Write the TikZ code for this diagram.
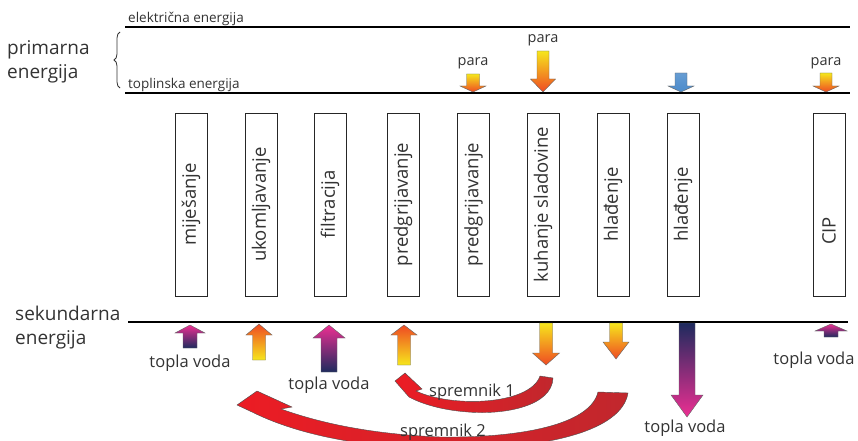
\documentclass[tikz,border=0pt]{standalone}
\usepackage{fontspec}
\setmainfont{Open Sans}
\usetikzlibrary{decorations.pathreplacing}
\definecolor{txt}{HTML}{333333}
\definecolor{ayel}{HTML}{F6E61C}
\definecolor{aora}{HTML}{EF4A23}
\definecolor{apink}{HTML}{EC2F92}
\definecolor{anavy}{HTML}{1E2B5E}
\definecolor{ablue}{HTML}{4B8BCB}
\definecolor{redA}{HTML}{EC1C24}
\definecolor{redB}{HTML}{C1272D}
% x, y0 (body end), y1 (head base), y2 (tip), w, h, top colour, bottom colour
\newcommand\blockarrow[8]{%
  \shadedraw[top color=#7,bottom color=#8,draw=black!60,line width=0.4pt]
  ({#1-#5},#2) -- ({#1+#5},#2) -- ({#1+#5},#3) -- ({#1+#6},#3) -- (#1,#4)
  -- ({#1-#6},#3) -- ({#1-#5},#3) -- cycle;}
\tikzset{
  lbl/.style={text=txt,inner sep=0pt,font=\fontsize{16.5}{18}\selectfont},
  paralbl/.style={text=txt,inner sep=0pt,font=\fontsize{14.5}{16}\selectfont},
  small/.style={text=txt,inner sep=0pt,font=\fontsize{13.5}{15}\selectfont},
  big/.style={text=txt,inner sep=0pt,font=\fontsize{19}{24}\selectfont,align=left},
  procbox/.style={draw=black!85,line width=0.9pt,rotate=90,minimum width=183pt,
    minimum height=32pt,inner sep=0pt,text=txt,font=\fontsize{18.5}{20}\selectfont},
  boxtext/.style={rotate=90,inner sep=0pt,text=txt,font=\fontsize{18.5}{20}\selectfont},
  level/.style={line width=1.7pt,black},
  loop/.style={left color=redA,right color=redB,draw=black!70,line width=0.4pt}
}
\begin{document}
\begin{tikzpicture}[x=1pt,y=-1pt]
\useasboundingbox[fill=white] (0,0) rectangle (858,441);
% energy levels
\draw[level] (125,27) -- (850,27);
\draw[level] (125,93) -- (850,93);
\draw[level] (128,322) -- (848,322);
\node[small,anchor=base west] (el) at (128,22.5) {električna energija};
\node[small,anchor=base west] (tl) at (128,89) {toplinska energija};
\draw[txt,line width=0.8pt,decorate,decoration={brace,amplitude=6pt}] (120,88) -- (120,32);
\node[big,anchor=west] (prim) at (7,62) {primarna\\energija};
\node[big,anchor=west] (sek) at (15,328) {sekundarna\\energija};
% process boxes
\node[procbox] (b1) at (191,204.5) {miješanje};
\node[procbox] (b2) at (261,204.5) {ukomljavanje};
\node[procbox] (b3) at (330,204.5) {filtracija};
\node[procbox] (b4) at (403,204.5) {predgrijavanje};
\node[procbox] (b5) at (473.5,204.5) {predgrijavanje};
\node[procbox] (b6) at (543,204.5) {kuhanje sladovine};
\node[procbox] (b7) at (613,204.5) {hlađenje};
\node[procbox] (b8) at (683,204.5) {hlađenje};
\node[procbox] (b9) at (829,204.5) {};
\node[boxtext] (t9) at (829,231) {CIP};
% primary (heat) arrows
\blockarrow{473}{74}{86}{92}{6.5}{13}{ayel}{aora}
\blockarrow{543}{51}{79}{92}{6}{12.5}{ayel}{aora}
\blockarrow{681}{73}{86}{92}{6}{13}{ablue!85!white}{ablue}
\blockarrow{826}{73}{86}{92}{6}{13}{ayel}{aora}
\node[paralbl] (p1) at (473,63) {para};
\node[paralbl] (p2) at (543,40) {para};
\node[paralbl] (p3) at (826,63) {para};
% secondary arrows
\blockarrow{190}{348}{333}{325}{7}{15}{apink}{anavy}
\blockarrow{259}{360}{335}{324}{6.5}{13}{aora}{ayel}
\blockarrow{329}{372}{338}{325}{8}{16}{apink}{anavy}
\blockarrow{404}{365}{335}{325}{6.5}{13}{aora}{ayel}
\blockarrow{546}{323}{353}{365}{6.5}{13.5}{ayel}{aora}
\blockarrow{616}{323}{342}{359}{6.5}{13}{ayel}{aora}
\blockarrow{687}{323}{395}{417}{8}{16}{anavy}{apink}
\blockarrow{831}{337}{331}{324}{7}{16}{apink}{anavy}
\node[lbl] (tv1) at (190,363) {topla voda};
\node[lbl] (tv2) at (329,385) {topla voda};
\node[lbl] (tv3) at (685,428) {topla voda};
\node[lbl] (tv4) at (814,360) {topla voda};
% storage loops
\shadedraw[loop]
  (395,381) -- (405,373) -- (422,389) -- (416,391)
  .. controls (452,408) and (530,405) .. (540,376) -- (553,378)
  .. controls (552,406) and (505,415) .. (468,412)
  .. controls (440,410) and (420,403) .. (409,397) -- cycle;
\shadedraw[loop]
  (237,405) -- (257,391) -- (292,407) -- (281,409)
  .. controls (320,423) and (370,434) .. (440,437)
  .. controls (520,438) and (590,425) .. (598,392) -- (628,393)
  .. controls (622,430) and (550,449) .. (450,449)
  .. controls (370,449) and (300,436) .. (252,412) -- cycle;
\node[lbl] (s1) at (472,392) {spremnik 1};
\node[lbl] (s2) at (443,432) {spremnik 2};
\end{tikzpicture}
\end{document}
